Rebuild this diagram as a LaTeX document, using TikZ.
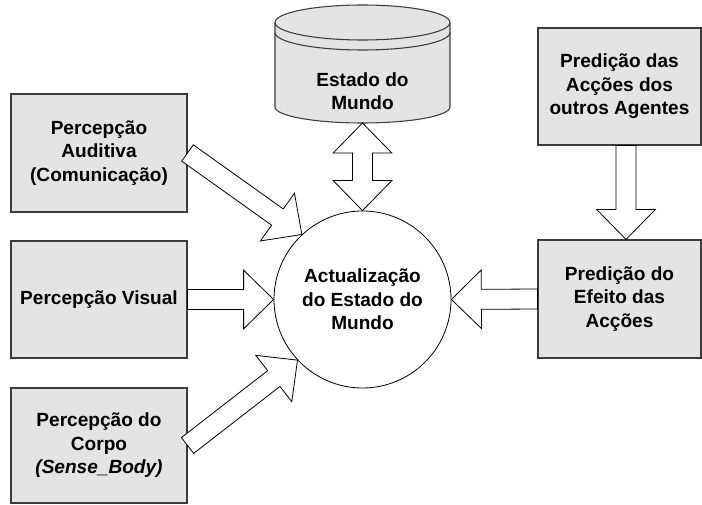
\documentclass[tikz,border=0pt]{standalone}
\usepackage{fontspec}
\setmainfont{Liberation Sans}
\usetikzlibrary{calc}
\definecolor{boxgray}{RGB}{228,228,228}
\definecolor{edgegray}{RGB}{60,60,60}
\tikzset{
  lbl/.style={font=\fontsize{14.3}{17.6}\selectfont\bfseries, align=center, text=black},
  gbox/.style={lbl, draw=edgegray, fill=boxgray, line width=0.8pt, rectangle, inner sep=0pt},
  barrow/.style={draw=black, fill=white, line width=0.6pt, line join=miter},
}
% single block arrow from #1 to #2
\newcommand\blockarrow[2]{%
  \coordinate (ah) at ($(#2)!22.5pt!(#1)$);
  \draw[barrow] ($(#1)!7.5pt!90:(#2)$) -- ($(ah)!7.5pt!90:(#2)$) -- ($(ah)!22pt!90:(#2)$)
    -- (#2) -- ($(ah)!22pt!-90:(#2)$) -- ($(ah)!7.5pt!-90:(#2)$) -- ($(#1)!7.5pt!-90:(#2)$) -- cycle;
}
% double block arrow between #1 and #2
\newcommand\dblockarrow[2]{%
  \coordinate (ah) at ($(#2)!22.5pt!(#1)$);
  \coordinate (at) at ($(#1)!22.5pt!(#2)$);
  \draw[barrow] (#1) -- ($(at)!22pt!-90:(#2)$) -- ($(at)!7.5pt!-90:(#2)$) -- ($(ah)!7.5pt!90:(#1)$)
    -- ($(ah)!22pt!90:(#1)$) -- (#2) -- ($(ah)!22pt!-90:(#1)$) -- ($(ah)!7.5pt!-90:(#1)$)
    -- ($(at)!7.5pt!90:(#2)$) -- ($(at)!22pt!90:(#2)$) -- cycle;
}
\begin{document}
\begin{tikzpicture}[x=0.75pt,y=-0.75pt]
\useasboundingbox (0,0) rectangle (702,505);

% boxes
\node[gbox, minimum width=132pt, minimum height=88.5pt] (aud) at (99,153) {Percepção\\Auditiva\\(Comunicação)};
\node[gbox, minimum width=132pt, minimum height=87.75pt] (vis) at (99,299.5) {Percepção Visual};
\node[gbox, minimum width=132pt, minimum height=86.25pt] (cor) at (99,445.5) {Percepção do\\Corpo\\\textit{(Sense\_Body)}};
\node[gbox, minimum width=122.25pt, minimum height=87.75pt] (age) at (619.5,86.5) {Predição das\\Acções dos\\outros Agentes};
\node[gbox, minimum width=122.25pt, minimum height=88.5pt] (efe) at (619.5,299) {Predição do\\Efeito das\\Acções};

% cylinder (Estado do Mundo)
\fill[boxgray] (275,22.5) -- (275,107) arc[start angle=180, end angle=360, x radius=65.625pt, y radius=12pt]
  -- (450,22.5) arc[start angle=0, end angle=180, x radius=65.625pt, y radius=13.125pt] -- cycle;
\draw[edgegray, line width=0.8pt] (275,22.5) -- (275,107) arc[start angle=180, end angle=360, x radius=65.625pt, y radius=12pt] -- (450,22.5);
\draw[edgegray, line width=0.8pt] (362.5,22.5) ellipse[x radius=65.625pt, y radius=13.125pt];
\draw[edgegray, line width=0.8pt] (275,32.5) arc[start angle=180, end angle=360, x radius=65.625pt, y radius=13.125pt];
\node[lbl] (db) at (362.5,91) {Estado do\\Mundo};
\coordinate (dbbot) at (362.5,123);

% central circle
\node[lbl, circle, draw=black, fill=white, line width=0.6pt, minimum size=132.75pt, inner sep=0pt] (circ) at (362.5,299.5) {Actualização\\do Estado do\\Mundo};

% arrows
\blockarrow{aud.east}{circ.133}
\blockarrow{vis.east}{circ.west}
\blockarrow{cor.east}{circ.223}
\blockarrow{efe.west}{circ.east}
\coordinate (ageout) at ($(age.south)+(6.5,0)$);
\coordinate (efein) at ($(efe.north)+(6.5,0)$);
\blockarrow{ageout}{efein}
\dblockarrow{dbbot}{circ.north}
\end{tikzpicture}
\end{document}
